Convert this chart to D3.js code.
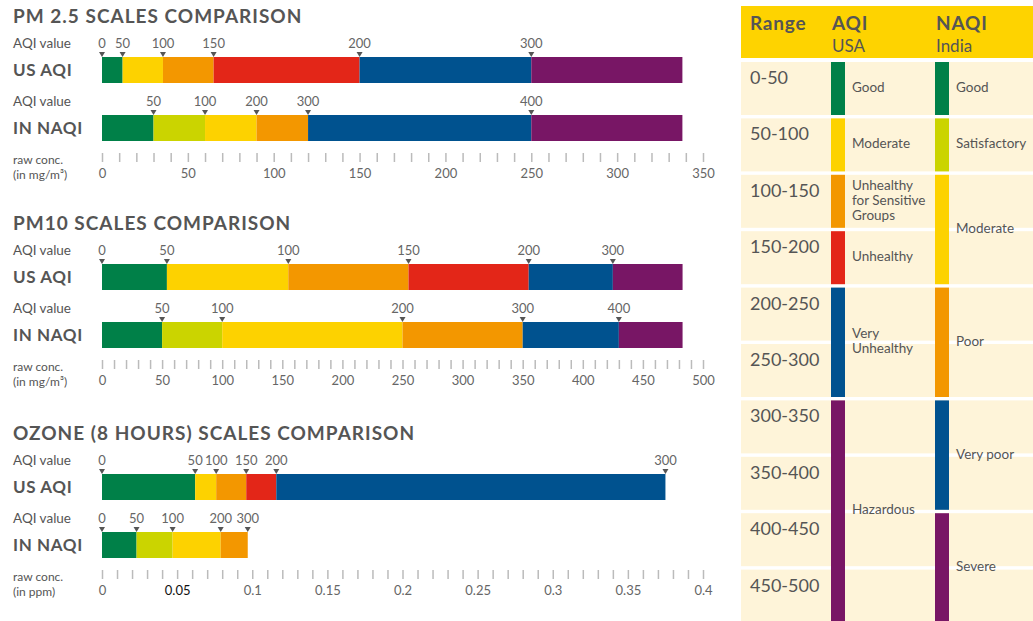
<!DOCTYPE html>
<html>
<head>
<meta charset="utf-8">
<script src="https://cdn.jsdelivr.net/npm/d3@7"></script>
<style>
  body { margin: 0; background: #fff; }
  text { font-family: Lato, "Open Sans", sans-serif; }
</style>
</head>
<body>
<svg id="canvas"></svg>
<script>
// ---- data ----
// concentration breakpoints, AQI label shown at each breakpoint (null = none), level of each segment
let pm25UsConc = [0, 12, 35.5, 65, 150, 250, 338]
let pm25UsAqi = ["0", "50", "100", "150", "200", "300", null]
let pm25UsLevels = ["good", "moderate", "sensitive", "unhealthy", "veryUnhealthy", "hazardous"]

let pm25InConc = [0, 30, 60, 90, 120, 250, 338]
let pm25InAqi = [null, "50", "100", "200", "300", "400", null]
let pm25InLevels = ["good", "satisfactory", "moderate", "poor", "veryPoor", "severe"]

let pm10UsConc = [0, 54, 155, 255, 355, 425, 483]
let pm10UsAqi = ["0", "50", "100", "150", "200", "300", null]
let pm10UsLevels = ["good", "moderate", "sensitive", "unhealthy", "veryUnhealthy", "hazardous"]

let pm10InConc = [0, 50, 100, 250, 350, 430, 483]
let pm10InAqi = [null, "50", "100", "200", "300", "400", null]
let pm10InLevels = ["good", "satisfactory", "moderate", "poor", "veryPoor", "severe"]

let ozoneUsConc = [0, 0.062, 0.076, 0.096, 0.116, 0.375]
let ozoneUsAqi = ["0", "50", "100", "150", "200", "300"]
let ozoneUsLevels = ["good", "moderate", "sensitive", "unhealthy", "veryUnhealthy"]

let ozoneInConc = [0, 0.023, 0.047, 0.079, 0.097]
let ozoneInAqi = ["0", "50", "100", "200", "300"]
let ozoneInLevels = ["good", "satisfactory", "moderate", "poor"]

// raw concentration axes: max, minor tick step, label step
let pm25Axis = [350, 10, 50]
let pm10Axis = [500, 10, 50]
let ozoneAxis = [0.4, 0.01, 0.05]

// table on the right
let ranges = ["0-50", "50-100", "100-150", "150-200", "200-250", "250-300",
              "300-350", "350-400", "400-450", "450-500"]
let aqiCategories = ["Good", "Moderate", "Unhealthy\nfor Sensitive\nGroups", "Unhealthy", "Very\nUnhealthy", "Hazardous"]
let aqiLevels = ["good", "moderate", "sensitive", "unhealthy", "veryUnhealthy", "hazardous"]
let aqiSpans = [1, 1, 1, 1, 2, 4]
let naqiCategories = ["Good", "Satisfactory", "Moderate", "Poor", "Very poor", "Severe"]
let naqiLevels = ["good", "satisfactory", "moderate", "poor", "veryPoor", "severe"]
let naqiSpans = [1, 1, 2, 2, 2, 2]

// ---- styles ----
let levelColor = {
  good: "#008048", satisfactory: "#cbd400", moderate: "#fdd200",
  sensitive: "#f39700", poor: "#f39700", unhealthy: "#e32618",
  veryUnhealthy: "#00528f", veryPoor: "#00528f",
  hazardous: "#781665", severe: "#781665"
}
let textColor = "#555"

let width = 1033
let height = 621
let canvas = d3.select("#canvas").attr("width", width).attr("height", height)

let barX0 = 102, barX1 = 703, barH = 26

let sections = [
  { title: "PM 2.5 SCALES COMPARISON", top: 57, axis: pm25Axis, unit: "(in mg/m³)",
    us: [pm25UsConc, pm25UsAqi, pm25UsLevels], inn: [pm25InConc, pm25InAqi, pm25InLevels] },
  { title: "PM10 SCALES COMPARISON", top: 264, axis: pm10Axis, unit: "(in mg/m³)",
    us: [pm10UsConc, pm10UsAqi, pm10UsLevels], inn: [pm10InConc, pm10InAqi, pm10InLevels] },
  { title: "OZONE (8 HOURS) SCALES COMPARISON", top: 474, axis: ozoneAxis, unit: "(in ppm)",
    us: [ozoneUsConc, ozoneUsAqi, ozoneUsLevels], inn: [ozoneInConc, ozoneInAqi, ozoneInLevels] }
]

let drawRow = (g, x, y, row, name) => {
  let [conc, aqi, levels] = row
  g.append("text").attr("x", 13).attr("y", y - 9)
   .attr("font-size", 13.5).attr("fill", textColor).text("AQI value")
  g.append("text").attr("x", 13).attr("y", y + 19)
   .attr("font-size", 17).attr("font-weight", "bold").attr("letter-spacing", 0.6)
   .attr("fill", textColor).text(name)

  g.selectAll(null).data(levels).enter().append("rect")
   .attr("x", (d, i) => x(conc[i]))
   .attr("y", y)
   .attr("width", (d, i) => x(conc[i + 1]) - x(conc[i]))
   .attr("height", barH)
   .attr("fill", d => levelColor[d])

  let marks = conc.map((c, i) => ({ c: c, label: aqi[i] })).filter(m => m.label !== null)
  g.selectAll(null).data(marks).enter().append("path")
   .attr("d", m => `M${x(m.c) - 3},${y - 5}L${x(m.c) + 3},${y - 5}L${x(m.c)},${y}Z`)
   .attr("fill", textColor)
  g.selectAll(null).data(marks).enter().append("text")
   .attr("x", m => x(m.c)).attr("y", y - 9)
   .attr("text-anchor", "middle").attr("font-size", 13).attr("fill", "#666")
   .text(m => m.label)
}

sections.forEach(s => {
  let [max, step, labelStep] = s.axis
  let x = d3.scaleLinear().domain([0, max]).range([barX0, barX1])
  let g = canvas.append("g")
  let B = s.top

  g.append("text").attr("x", 13).attr("y", B - 34)
   .attr("font-size", 19).attr("font-weight", "bold").attr("letter-spacing", 1)
   .attr("fill", textColor)
   .text(s.title)

  drawRow(g, x, B, s.us, "US AQI")
  drawRow(g, x, B + 58, s.inn, "IN NAQI")

  let n = Math.round(max / step)
  let per = Math.round(labelStep / step)
  let tickVals = d3.range(n + 1).map(i => i * step)
  let axis = d3.axisBottom(x)
    .tickValues(tickVals)
    .tickSize(9)
    .tickPadding(7)
    .tickFormat((d, i) => i % per === 0 ? String(+d.toFixed(3)) : "")
  let ax = g.append("g").attr("transform", `translate(0,${B + 96})`).call(axis)
  ax.select(".domain").remove()
  ax.selectAll(".tick line").attr("stroke", "#bbb").attr("stroke-width", 1.5)
  ax.selectAll(".tick text").attr("font-size", 13).attr("fill", "#666")
    .attr("font-family", "Lato, sans-serif")
    .filter(d => Math.abs(d - 0.05) < 1e-9).attr("fill", "#111")

  g.append("text").attr("x", 13).attr("y", B + 107)
   .attr("font-size", 12).attr("fill", textColor).text("raw conc.")
  g.append("text").attr("x", 13).attr("y", B + 122)
   .attr("font-size", 12).attr("fill", textColor).text(s.unit)
})

// ---- table ----
let tX = 741, tW = 292
let rowY = d3.scaleLinear().domain([0, ranges.length]).range([62, 626])
let gap = 3.4
let table = canvas.append("g")

table.append("rect").attr("x", tX).attr("y", 6).attr("width", tW).attr("height", 52).attr("fill", "#fed300")
let header = (x, y, txt, bold) => table.append("text").attr("x", x).attr("y", y)
     .attr("font-size", bold ? 19 : 17).attr("font-weight", bold ? "bold" : "normal")
     .attr("letter-spacing", bold ? 0.8 : 0).attr("fill", textColor).text(txt)
header(750, 30, "Range", true)
header(832, 30, "AQI", true)
header(832, 52, "USA", false)
header(936, 30, "NAQI", true)
header(936, 52, "India", false)

table.selectAll(null).data(ranges).enter().append("rect")
     .attr("x", tX).attr("y", (d, i) => rowY(i))
     .attr("width", tW).attr("height", (d, i) => rowY(i + 1) - rowY(i) - gap)
     .attr("fill", "#fef4d9")
table.selectAll(null).data(ranges).enter().append("text")
     .attr("x", 750).attr("y", (d, i) => rowY(i) + 22)
     .attr("font-size", 18).attr("fill", textColor).text(d => d)

let drawColumn = (cats, levels, spans, barLeft) => {
  let starts = spans.map((s, i) => d3.sum(spans.slice(0, i)))
  table.selectAll(null).data(levels).enter().append("rect")
       .attr("x", barLeft).attr("width", 14)
       .attr("y", (d, i) => rowY(starts[i]))
       .attr("height", (d, i) => rowY(starts[i] + spans[i]) - rowY(starts[i]) - gap)
       .attr("fill", d => levelColor[d])
  cats.forEach((c, i) => {
    let lines = c.split("\n")
    let mid = (rowY(starts[i]) + Math.min(rowY(starts[i] + spans[i]) - gap, height)) / 2
    let t = table.append("text").attr("x", barLeft + 21).attr("font-size", 13.5).attr("fill", textColor)
    lines.forEach((l, j) => {
      t.append("tspan").attr("x", barLeft + 21)
       .attr("y", mid + 3.5 + (j - (lines.length - 1) / 2) * 15).text(l)
    })
  })
}
drawColumn(aqiCategories, aqiLevels, aqiSpans, 831)
drawColumn(naqiCategories, naqiLevels, naqiSpans, 935)
</script>
</body>
</html>
